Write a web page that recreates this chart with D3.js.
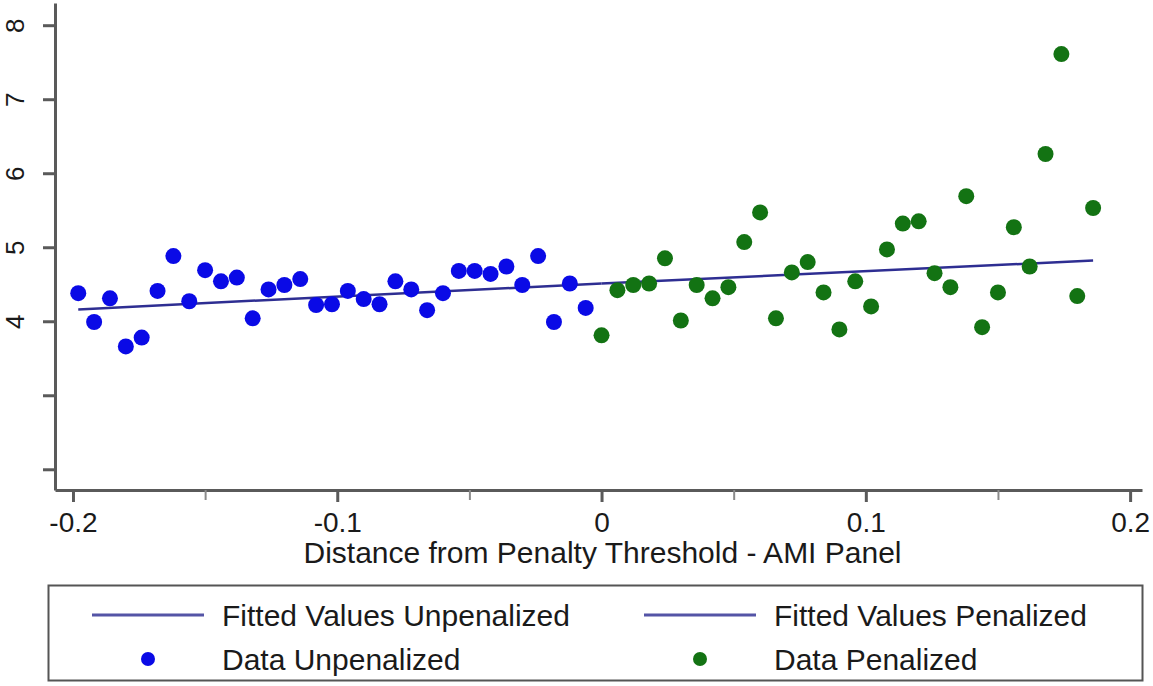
<!DOCTYPE html>
<html>
<head>
<meta charset="utf-8">
<script src="https://cdn.jsdelivr.net/npm/d3@7"></script>
<style>
  body { margin: 0; background: #fff; }
  svg { display: block; font-family: "Liberation Sans", Arial, sans-serif; }
</style>
</head>
<body>
<div id="chart"></div>
<script>
// data
const unpenX = [-0.198, -0.192, -0.186, -0.180, -0.174, -0.168, -0.162, -0.156, -0.150, -0.144, -0.138,
                -0.132, -0.126, -0.120, -0.114, -0.108, -0.102, -0.096, -0.090, -0.084, -0.078, -0.072,
                -0.066, -0.060, -0.054, -0.048, -0.042, -0.036, -0.030, -0.024, -0.018, -0.012, -0.006];
const unpenY = [4.38, 3.99, 4.31, 3.66, 3.78, 4.41, 4.88, 4.27, 4.69, 4.54, 4.59,
                4.04, 4.43, 4.49, 4.57, 4.22, 4.23, 4.41, 4.30, 4.23, 4.54, 4.43,
                4.15, 4.38, 4.68, 4.68, 4.64, 4.74, 4.49, 4.88, 3.99, 4.51, 4.18];
const penX = [0.000, 0.006, 0.012, 0.018, 0.024, 0.030, 0.036, 0.042, 0.048, 0.054, 0.060,
              0.066, 0.072, 0.078, 0.084, 0.090, 0.096, 0.102, 0.108, 0.114, 0.120, 0.126,
              0.132, 0.138, 0.144, 0.150, 0.156, 0.162, 0.168, 0.174, 0.180, 0.186];
const penY = [3.81, 4.42, 4.49, 4.51, 4.85, 4.01, 4.49, 4.31, 4.46, 5.07, 5.47,
              4.04, 4.66, 4.80, 4.39, 3.89, 4.54, 4.20, 4.97, 5.32, 5.35, 4.65,
              4.46, 5.69, 3.92, 4.39, 5.27, 4.74, 6.26, 7.61, 4.34, 5.53];
// fitted lines: [x, y] at both ends
const fitUnpen = [[-0.198, 4.16], [0.000, 4.51]];
const fitPen = [[0.000, 4.51], [0.186, 4.82]];

const xTicks = [-0.2, -0.1, 0, 0.1, 0.2];
const xTickLabels = ['-0.2', '-0.1', '0', '0.1', '0.2'];
const xMinorTicks = [-0.15, -0.05, 0.05, 0.15];
const yTicks = [2, 3, 4, 5, 6, 7, 8];
const yTickLabels = ['', '', '4', '5', '6', '7', '8'];
const xTitle = 'Distance from Penalty Threshold - AMI Panel';
const legendLabels = ['Fitted Values Unpenalized', 'Fitted Values Penalized', 'Data Unpenalized', 'Data Penalized'];

const width = 1153, height = 686;
const blue = '#0a0ae6', green = '#137313', lineCol = '#2e2e92', axisCol = '#5a5a5a';

const svg = d3.select('#chart').append('svg')
    .attr('width', width)
    .attr('height', height);

const x = d3.scaleLinear([-0.2068, 0.2045], [55, 1142]);
const y = d3.scaleLinear([1.72, 8.3], [490, 3]);

// axes
const axisX = svg.append('g').attr('transform', `translate(0,${y.range()[0]})`)
    .call(d3.axisBottom(x).tickValues(xTicks).tickSize(12).tickSizeOuter(0).tickPadding(10)
        .tickFormat((d, i) => xTickLabels[i]));
const axisXMinor = svg.append('g').attr('transform', `translate(0,${y.range()[0]})`)
    .call(d3.axisBottom(x).tickValues(xMinorTicks).tickSize(10).tickSizeOuter(0).tickFormat(''));
axisXMinor.select('.domain').remove();
axisXMinor.selectAll('line').attr('stroke', '#8a8a8a').attr('stroke-width', 2);

const axisY = svg.append('g').attr('transform', `translate(${x.range()[0]},0)`)
    .call(d3.axisLeft(y).tickValues(yTicks).tickSize(12).tickSizeOuter(0)
        .tickFormat((d, i) => yTickLabels[i]));
axisY.selectAll('text')
    .attr('x', null).attr('dy', '0.35em')
    .attr('text-anchor', 'middle')
    .attr('transform', 'translate(-40,0) rotate(-90)');

[axisX, axisY].forEach(a => {
    a.select('.domain').attr('stroke', axisCol).attr('stroke-width', 3);
    a.selectAll('.tick line').attr('stroke', axisCol).attr('stroke-width', 3);
    a.selectAll('text').attr('fill', '#1a1a1a')
        .style('font-family', '"Liberation Sans", Arial, sans-serif');
});
axisX.selectAll('text').style('font-size', '28px');
axisY.selectAll('text').style('font-size', '26px');

svg.append('text')
    .attr('x', (x.range()[0] + x.range()[1]) / 2 + 4)
    .attr('y', 563)
    .attr('text-anchor', 'middle')
    .attr('fill', '#1a1a1a')
    .style('font-size', '30px')
    .text(xTitle);

// fitted lines
const line = d3.line().x(d => x(d[0])).y(d => y(d[1]));
svg.selectAll('path.fit')
    .data([fitUnpen, fitPen])
    .join('path')
    .classed('fit', true)
    .attr('d', line)
    .attr('fill', 'none')
    .attr('stroke', lineCol)
    .attr('stroke-width', 2.5);

// points
const r = 8;
svg.append('g').selectAll('circle')
    .data(d3.zip(unpenX, unpenY))
    .join('circle')
    .attr('cx', d => x(d[0]))
    .attr('cy', d => y(d[1]))
    .attr('r', r)
    .attr('fill', blue);
svg.append('g').selectAll('circle')
    .data(d3.zip(penX, penY))
    .join('circle')
    .attr('cx', d => x(d[0]))
    .attr('cy', d => y(d[1]))
    .attr('r', r)
    .attr('fill', green);

// legend
const legend = svg.append('g');
legend.append('rect')
    .attr('x', 48.5).attr('y', 585.5)
    .attr('width', 1094).attr('height', 95)
    .attr('fill', '#fff')
    .attr('stroke', '#555').attr('stroke-width', 2);

const cols = [92, 644], rows = [615, 659];
const items = [
    {label: legendLabels[0], type: 'line', col: 0, row: 0},
    {label: legendLabels[1], type: 'line', col: 1, row: 0},
    {label: legendLabels[2], type: 'dot', col: 0, row: 1, color: blue},
    {label: legendLabels[3], type: 'dot', col: 1, row: 1, color: green}
];
const keyW = 112;
items.forEach(it => {
    const kx = cols[it.col], ky = rows[it.row];
    if (it.type === 'line') {
        legend.append('line')
            .attr('x1', kx).attr('x2', kx + keyW)
            .attr('y1', ky).attr('y2', ky)
            .attr('stroke', '#5454a6').attr('stroke-width', 3);
    } else {
        legend.append('circle')
            .attr('cx', kx + keyW / 2).attr('cy', ky)
            .attr('r', 7)
            .attr('fill', it.color);
    }
    legend.append('text')
        .attr('x', kx + keyW + 18)
        .attr('y', ky)
        .attr('dy', '0.35em')
        .attr('fill', '#1a1a1a')
        .style('font-size', '30px')
        .text(it.label);
});
</script>
</body>
</html>
